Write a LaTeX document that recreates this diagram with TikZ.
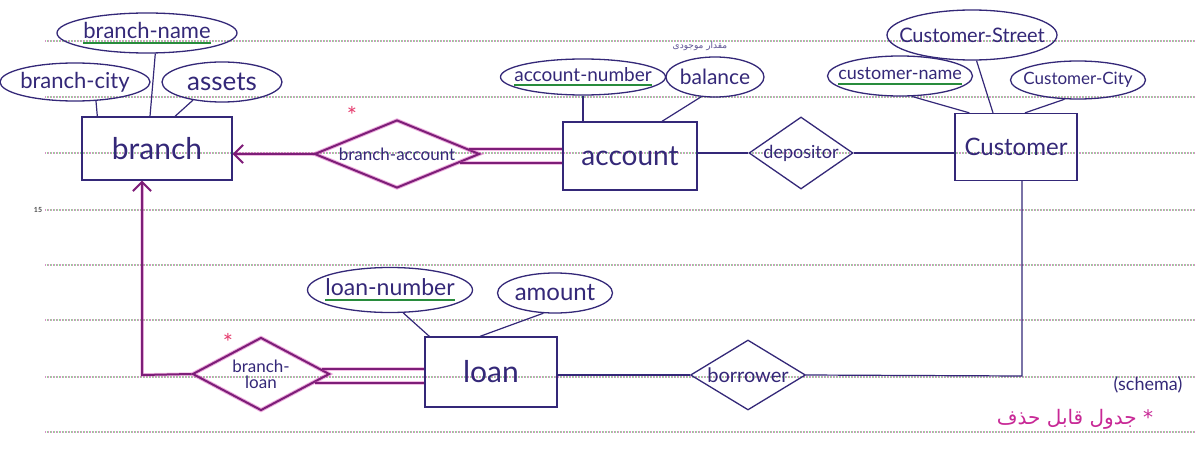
\documentclass[tikz,border=0pt]{standalone}
\usepackage{fontspec}
\setmainfont{Lato}
\newfontfamily\fafont[Script=Arabic]{DejaVu Sans}
\usetikzlibrary{shapes.geometric,arrows.meta,calc}
\TeXXeTstate=1

\definecolor{ink}{RGB}{52,40,120}
\definecolor{mag}{RGB}{125,30,120}
\definecolor{hilite}{RGB}{215,70,180}
\definecolor{starred}{RGB}{230,60,110}
\definecolor{notemag}{RGB}{200,40,150}
\definecolor{keygreen}{RGB}{40,140,60}
\definecolor{rulepink}{RGB}{215,150,200}
\definecolor{rulegreen}{RGB}{150,210,150}

% green underline for key attributes
\newsavebox\keybox
\newcommand\keyul[1]{\sbox\keybox{#1}\rlap{\textcolor{keygreen}{\rule[-5pt]{\wd\keybox}{2pt}}}\usebox\keybox}
% zero-width text so shapes keep their given size
\newcommand\zw[1]{\makebox[0pt]{#1}}
\newcommand\fs[1]{\fontsize{#1}{#1}\selectfont}

\tikzset{
  ent/.style={draw=ink, line width=1.3pt, rectangle, inner sep=0pt, text=ink},
  attr/.style={draw=ink, line width=1.3pt, ellipse, inner sep=0pt, text=ink},
  rel/.style={draw=ink, line width=1.3pt, diamond, inner sep=0pt, text=ink},
  wrel/.style={rel, draw=mag, line width=2pt,
    preaction={draw=hilite, line width=4pt, opacity=0.45}},
  link/.style={draw=ink, line width=1.2pt},
  wlink/.style={draw=mag, line width=2pt,
    preaction={draw=hilite, line width=3.5pt, opacity=0.35}},
  barb/.style={-{Straight Barb[length=9pt,width=18pt,line width=2pt]}},
  rulep/.style={draw=rulepink, line width=1.1pt, dash pattern=on 1.3pt off 1.7pt},
  ruleg/.style={draw=rulegreen, line width=1.1pt, dash pattern=on 1.3pt off 1.7pt, dash phase=1.5pt},
  star/.style={text=starred, inner sep=0pt, font=\fs{24}},
}

\begin{document}
\begin{tikzpicture}[x=1pt,y=-1pt]
\useasboundingbox (0,0) rectangle (1195,452);
\fill[white] (0,0) rectangle (1195,452);

% ruled paper
\foreach \yy in {41,97,153,210,265,320,377,432} {
  \draw[rulep] (45,\yy) -- (1195,\yy);
  \draw[ruleg] (45,\yy) -- (1195,\yy);
}
\node[text=black!70, font=\fs{7}\bfseries, inner sep=0pt] (pagenum) at (38,210) {15};

% entities
\node[ent, minimum width=150pt, minimum height=63pt, font=\fs{30}] (branch) at (157,148.5) {branch};
\node[ent, minimum width=134pt, minimum height=68pt, font=\fs{28}] (account) at (630,156) {account};
\node[ent, minimum width=122pt, minimum height=67pt, font=\fs{24}] (cust) at (1016,147) {Customer};
\node[ent, minimum width=132pt, minimum height=70pt, font=\fs{30}] (loan) at (491,372) {loan};

% attributes
\node[attr, minimum width=180pt, minimum height=40pt, font=\fs{22}] (bname) at (147,33) {\zw{\keyul{branch-name}}};
\node[attr, minimum width=150pt, minimum height=38pt, font=\fs{22}] (bcity) at (75,82) {\zw{branch-city}};
\node[attr, minimum width=120pt, minimum height=40pt, font=\fs{26}] (assets) at (222,82) {\zw{assets}};
\node[attr, minimum width=165pt, minimum height=36pt, font=\fs{19}] (accnum) at (583,77) {\zw{\keyul{account-number}}};
\node[attr, minimum width=98pt, minimum height=40pt, font=\fs{21}] (balance) at (715,77) {\zw{balance}};
\node[attr, minimum width=170pt, minimum height=50pt, font=\fs{20}] (cstreet) at (972,35) {\zw{Customer-Street}};
\node[attr, minimum width=145pt, minimum height=40pt, font=\fs{18}] (cname) at (900,76) {\zw{\keyul{customer-name}}};
\node[attr, minimum width=135pt, minimum height=38pt, font=\fs{17}] (ccity) at (1078,80) {\zw{Customer-City}};
\node[attr, minimum width=165pt, minimum height=45pt, font=\fs{23}] (lnum) at (390,290) {\zw{\keyul{loan-number}}};
\node[attr, minimum width=115pt, minimum height=40pt, font=\fs{24}] (amount) at (555,293) {\zw{amount}};

% relationships
\node[wrel, minimum width=165pt, minimum height=68pt, font=\fs{17}] (ba) at (397,154) {\zw{branch-account}};
\node[rel, minimum width=104pt, minimum height=72pt, font=\fs{18}] (dep) at (801,153) {\zw{depositor}};
\node[wrel, minimum width=137pt, minimum height=73pt, font=\fs{17}] (bl) at (261,374) {\zw{\shortstack{branch-\\loan}}};
\node[rel, minimum width=115pt, minimum height=70pt, font=\fs{20}] (bor) at (748,375) {\zw{borrower}};

% notes
\node[star] (star1) at (352,115) {*};
\node[star] (star2) at (228,342) {*};
\node[text=ink!80, font=\fs{9}\fafont, inner sep=0pt] (pnote) at (700,46) {\beginR مقدار موجودی\endR};
\node[text=ink, font=\fs{18}, inner sep=0pt] (schema) at (1148,385) {(schema)};
\node[text=notemag, font=\fs{20}\fafont, inner sep=0pt] (delnote) at (1075,419) {\beginR * جدول قابل حذف\endR};

% attribute links
\draw[link] (bcity.-42) -- ([xshift=16pt]branch.north west);
\draw[link] (bname.-68) -- ([xshift=-7pt]branch.north);
\draw[link] (assets.212) -- ([xshift=18pt]branch.north);
\draw[link] (accnum.south) -- (accnum.south |- account.north);
\draw[link] (balance.235) -- ([xshift=32pt]account.north);
\draw[link] (cname.-60) -- ([xshift=15pt]cust.north west);
\draw[link] (cstreet.-80) -- ([xshift=-23pt]cust.north);
\draw[link] (ccity.235) -- ([xshift=9pt]cust.north);
\draw[link] (lnum.-60) -- ([xshift=5pt]loan.north west);
\draw[link] (amount.240) -- ([xshift=-11pt]loan.north);

% relationship links (total participation drawn as double lines)
\draw[wlink, barb] (ba.west) -- (ba.west -| branch.east);
\coordinate (ba1) at ($(ba.east)+(-12,-5)$);
\coordinate (ba2) at ($(ba.east)+(-21,9)$);
\draw[wlink] (ba1) -- (ba1 -| account.west);
\draw[wlink] (ba2) -- (ba2 -| account.west);
\draw[link] (dep.west -| account.east) -- (dep.west);
\draw[link] (dep.east) -- (dep.east -| cust.west);

\coordinate (cc) at (1022,376);
\draw[link] (cust.south -| cc) -- (cc) -- (bor.east);
\draw[link] (bor.west) -- (bor.west -| loan.east);

\coordinate (bl1) at ($(bl.east)+(-9,-5)$);
\coordinate (bl2) at ($(bl.east)+(-16,9)$);
\draw[wlink] (bl1) -- (bl1 -| loan.west);
\draw[wlink] (bl2) -- (bl2 -| loan.west);
\coordinate (bc) at (142,375);
\draw[wlink, barb] (bl.west) -- (bc) -- (bc |- branch.south);
\end{tikzpicture}
\end{document}
